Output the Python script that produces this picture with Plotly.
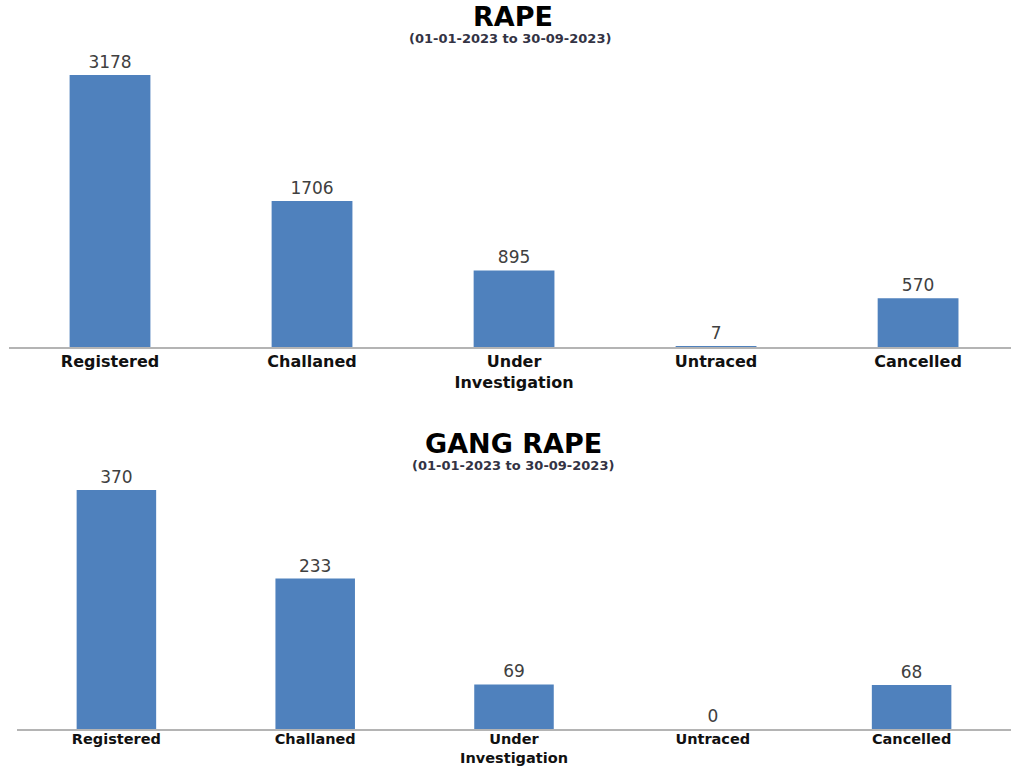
import plotly.graph_objects as go

categories = ["Registered", "Challaned", "Under<br>Investigation", "Untraced", "Cancelled"]
rape_values = [3178, 1706, 895, 7, 570]
gang_rape_values = [370, 233, 69, 0, 68]
title_top = "RAPE"
title_bottom = "GANG RAPE"
subtitle = "(01-01-2023 to 30-09-2023)"

W, H = 1011, 767
BAR = "#4f81bd"
FONT = "DejaVu Sans"

fig = go.Figure()
fig.add_trace(go.Bar(x=categories, y=rape_values, xaxis="x", yaxis="y",
                     marker=dict(color=BAR, line=dict(width=0)),
                     width=0.4, text=[str(v) for v in rape_values], textposition="outside",
                     textfont=dict(family=FONT, size=17, color="#404040"),
                     cliponaxis=False, showlegend=False))
fig.add_trace(go.Bar(x=categories, y=gang_rape_values, xaxis="x2", yaxis="y2",
                     marker=dict(color=BAR, line=dict(width=0)),
                     width=0.4, text=[str(v) for v in gang_rape_values], textposition="outside",
                     textfont=dict(family=FONT, size=17, color="#404040"),
                     cliponaxis=False, showlegend=False))

def px_x(p):
    return p / W

def px_y(p):
    return (H - p) / H

def xaxis_style(size, standoff):
    return dict(type="category", showline=True, linecolor="#b4b4b4", linewidth=2,
                showgrid=False, zeroline=False, ticks="", ticklabelstandoff=standoff,
                automargin=False,
                tickfont=dict(family=FONT, size=size, color="#111111", weight="bold"))

ycommon = dict(showline=False, showgrid=False, zeroline=False, showticklabels=False,
               automargin=False)

fig.update_layout(
    width=W, height=H,
    margin=dict(l=0, r=0, t=0, b=0, autoexpand=False),
    paper_bgcolor="white", plot_bgcolor="white",
    xaxis=dict(domain=[px_x(9), 1.0], range=[-0.5, 4.46], anchor="y", **xaxis_style(16, -1)),
    yaxis=dict(domain=[px_y(347), px_y(50)], range=[0, 3470], anchor="x", **ycommon),
    xaxis2=dict(domain=[px_x(17), 1.0], range=[-0.5, 4.5], anchor="y2", **xaxis_style(14.5, -4)),
    yaxis2=dict(domain=[px_y(729), px_y(480)], range=[0, 385.5], anchor="x2", **ycommon),
    bargap=0.6,
)

ann = [
    (title_top, 513, 17, 27, "#000000"),
    (subtitle, 510, 38, 13, "#333344"),
    (title_bottom, 513, 443, 27, "#000000"),
    (subtitle, 513, 465, 13, "#333344"),
]
for txt, x, y, size, color in ann:
    fig.add_annotation(text=txt, x=px_x(x), y=px_y(y), xref="paper", yref="paper",
                       showarrow=False, xanchor="center", yanchor="middle",
                       font=dict(family=FONT, size=size, color=color, weight="bold"))

fig.write_html("out.html")
